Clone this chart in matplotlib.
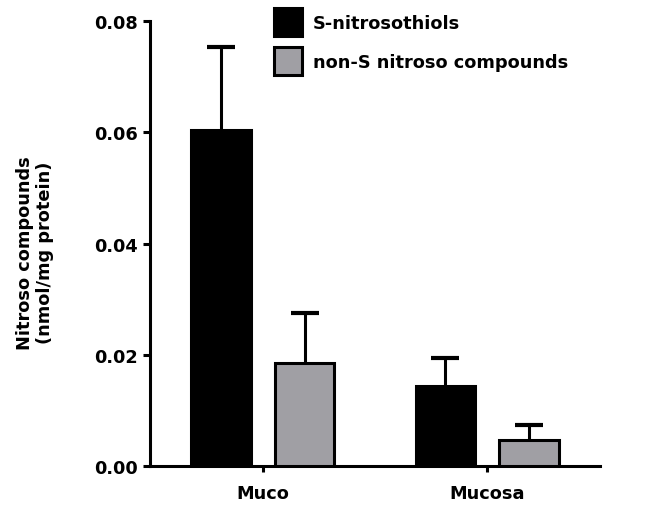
import matplotlib
matplotlib.use("Agg")
import matplotlib.pyplot as plt
import numpy as np

# group means and upper SEM for each compound class
groups = ["Muco", "Mucosa"]
series = ["S-nitrosothiols", "non-S nitroso compounds"]
snitroso_mean = [0.0604, 0.0144]
snitroso_err = [0.0150, 0.0050]
non_s_mean = [0.0185, 0.0047]
non_s_err = [0.0090, 0.0028]
yticks = [0.00, 0.02, 0.04, 0.06, 0.08]

plt.rcParams['font.family'] = ['DejaVu Sans']
plt.rcParams['font.weight'] = 'bold'
FS = 12.8
LW = 2.2

fig = plt.figure(figsize=(6.61, 5.06), dpi=100)
ax = fig.add_axes([150 / 661, 1 - 467.3 / 506, 450 / 661, (467.3 - 22) / 506])

x = np.arange(len(groups))
width = 0.266
offset = 0.186
colors = ['black', '#a09fa4']

for i, (means, errs, color, name) in enumerate(
        [(snitroso_mean, snitroso_err, colors[0], series[0]),
         (non_s_mean, non_s_err, colors[1], series[1])]):
    pos = x + (2 * i - 1) * offset
    _, caps, _ = ax.errorbar(pos, means, yerr=[np.zeros(len(errs)), errs],
                             fmt='none', ecolor='black', elinewidth=LW,
                             capsize=10, capthick=3, zorder=2)
    # only the upper whisker gets a cap
    caps[0].remove()
    ax.bar(pos, means, width, color=color, edgecolor='black', linewidth=LW,
           label=name, zorder=3)

ax.set_xlim(-0.504, 1.504)
ax.set_ylim(0, 0.08)
ax.set_yticks(yticks)
ax.set_yticklabels([f"{v:.2f}" for v in yticks])
ax.set_xticks(x)
ax.set_xticklabels(groups)

for side in ['top', 'right']:
    ax.spines[side].set_visible(False)
for side in ['left', 'bottom']:
    ax.spines[side].set_linewidth(LW)
ax.tick_params(axis='y', length=5, width=LW, pad=4, labelsize=FS)
ax.tick_params(axis='x', length=4, width=LW, pad=9, labelsize=FS)

fig.text(35 / 661, 0.5, "Nitroso compounds\n(nmol/mg protein)", rotation=90,
         ha='center', va='center', fontsize=FS, fontweight='bold',
         linespacing=1.15)

ax.legend(loc='upper left', bbox_to_anchor=(274 / 661, 1 - 9 / 506),
          bbox_transform=fig.transFigure, frameon=False, fontsize=FS,
          borderpad=0, borderaxespad=0, handlelength=1.6, handleheight=2.08,
          handletextpad=0.6, labelspacing=0.59)

fig.savefig("out.png", dpi=100)
